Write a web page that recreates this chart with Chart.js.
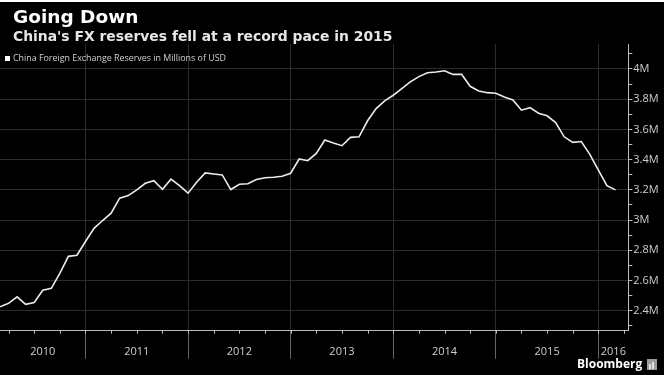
<!DOCTYPE html>
<html>
<head>
<meta charset="utf-8">
<script src="https://cdn.jsdelivr.net/npm/chart.js@4"></script>
<style>
  html, body { margin: 0; padding: 0; background: #000; }
  #wrap { width: 664px; height: 375px; position: relative; }
  canvas { display: block; }
</style>
</head>
<body>
<div id="wrap"><canvas id="c" width="664" height="375"></canvas></div>
<script>
// ---- data (month-end, millions of USD) ----
const months = [
  '2010-02','2010-03','2010-04','2010-05','2010-06','2010-07','2010-08','2010-09','2010-10','2010-11','2010-12',
  '2011-01','2011-02','2011-03','2011-04','2011-05','2011-06','2011-07','2011-08','2011-09','2011-10','2011-11','2011-12',
  '2012-01','2012-02','2012-03','2012-04','2012-05','2012-06','2012-07','2012-08','2012-09','2012-10','2012-11','2012-12',
  '2013-01','2013-02','2013-03','2013-04','2013-05','2013-06','2013-07','2013-08','2013-09','2013-10','2013-11','2013-12',
  '2014-01','2014-02','2014-03','2014-04','2014-05','2014-06','2014-07','2014-08','2014-09','2014-10','2014-11','2014-12',
  '2015-01','2015-02','2015-03','2015-04','2015-05','2015-06','2015-07','2015-08','2015-09','2015-10','2015-11','2015-12',
  '2016-01','2016-02'
];
const reserves = [
  2426000,2449000,2492000,2442000,2455000,2536000,2548000,2648000,2760000,2767000,2858000,
  2945000,2997000,3046000,3145000,3162000,3200000,3243000,3261000,3204000,3271000,3228000,3178000,
  3250000,3312000,3305000,3299000,3202000,3237000,3240000,3268000,3280000,3283000,3290000,3310000,
  3404000,3393000,3441000,3530000,3510000,3492000,3547000,3551000,3657000,3738000,3789000,3826000,
  3870000,3914000,3949000,3975000,3980000,3988000,3964000,3964000,3885000,3854000,3843000,3839000,
  3815000,3795000,3727000,3744000,3707000,3690000,3645000,3551000,3514000,3520000,3435000,3330000,
  3228000,3200000
];
const yearLabels = ['2010','2011','2012','2013','2014','2015','2016'];
const yTickValues = [2400000,2600000,2800000,3000000,3200000,3400000,3600000,3800000,4000000];
const titleText = 'Going Down';
const subtitleText = "China's FX reserves fell at a record pace in 2015";
const seriesName = 'China Foreign Exchange Reserves in Millions of USD';
const sourceText = 'Bloomberg';

// month index since end of 2009 (Feb 2010 -> 2)
const monthPos = m => (parseInt(m.slice(0,4)) - 2010) * 12 + parseInt(m.slice(5,7));
const points = months.map((m, i) => ({ x: monthPos(m), y: reserves[i] }));
const yearStarts = yearLabels.map((y, i) => i * 12);
const X_MIN = monthPos(months[0]);
const X_MAX = monthPos(months[months.length - 1]) + 1.5;

const decor = {
  id: 'decor',
  beforeDraw(chart) {
    const c = chart.ctx;
    c.save();
    c.fillStyle = '#000';
    c.fillRect(0, 0, chart.width, chart.height);
    c.fillStyle = '#fff';
    c.fillRect(0, 0, chart.width, 2);
    c.restore();
  },
  afterDraw(chart) {
    const c = chart.ctx, xs = chart.scales.x, area = chart.chartArea;
    c.save();
    // quarter ticks below x axis
    c.strokeStyle = '#bdbdbd';
    c.lineWidth = 1;
    for (let q = 3; q <= xs.max; q += 3) {
      if (q < xs.min) continue;
      const px = Math.round(xs.getPixelForValue(q)) + 0.5;
      c.beginPath();
      c.moveTo(px, area.bottom);
      c.lineTo(px, area.bottom + 3);
      c.stroke();
    }
    // year labels centred in each visible year span
    c.font = '11px "Open Sans"';
    c.fillStyle = '#cfcfcf';
    c.textAlign = 'center';
    c.textBaseline = 'middle';
    yearLabels.forEach((lab, i) => {
      const a = Math.max(xs.min, yearStarts[i]);
      const b = Math.min(xs.max, yearStarts[i] + 12);
      c.fillText(lab, xs.getPixelForValue((a + b) / 2), 352);
    });
    // titles
    c.textAlign = 'left';
    c.textBaseline = 'alphabetic';
    c.fillStyle = '#ffffff';
    c.font = 'bold 18.5px "DejaVu Sans"';
    c.fillText(titleText, 13, 22.5);
    c.fillStyle = '#e6e6e6';
    c.font = 'bold 13.9px "DejaVu Sans"';
    c.fillText(subtitleText, 13, 40.5);
    // legend
    c.fillStyle = '#ffffff';
    c.fillRect(5, 56, 5, 5);
    c.fillStyle = '#d0d0d0';
    c.font = '8.9px "Open Sans"';
    c.textBaseline = 'middle';
    c.fillText(seriesName, 13, 58.8);
    // source
    c.fillStyle = '#ffffff';
    c.font = 'bold 12px "Open Sans"';
    c.textBaseline = 'middle';
    c.fillText(sourceText, 577, 365);
    c.fillStyle = '#9a9a9a';
    c.fillRect(647, 359, 10, 11);
    c.fillStyle = '#e0e0e0';
    c.fillRect(649, 364, 2, 5);
    c.fillRect(652, 362, 2, 7);
    c.restore();
  }
};

new Chart(document.getElementById('c'), {
  type: 'line',
  data: {
    datasets: [{
      label: seriesName,
      data: points,
      borderColor: '#ececec',
      borderWidth: 1.6,
      pointRadius: 0,
      tension: 0,
      fill: false
    }]
  },
  options: {
    responsive: false,
    devicePixelRatio: 1,
    animation: false,
    layout: { padding: { top: 44, left: 0, right: 0, bottom: 0 } },
    plugins: { legend: { display: false }, tooltip: { enabled: false }, title: { display: false } },
    scales: {
      x: {
        type: 'linear',
        min: X_MIN,
        max: X_MAX,
        afterBuildTicks: s => { s.ticks = yearStarts.filter(v => v > X_MIN && v < X_MAX).map(v => ({ value: v })); },
        afterFit: s => { s.height = 44.3; },
        grid: { color: '#2c2c2c', lineWidth: 1, drawTicks: true, tickLength: 28, tickColor: '#666' },
        border: { display: true, color: '#bdbdbd', width: 1 },
        ticks: { display: false }
      },
      y: {
        position: 'right',
        min: 2268000,
        max: 4165000,
        afterBuildTicks: s => {
          const t = [];
          for (let v = 2300000; v <= 4100000; v += 100000) t.push({ value: v });
          s.ticks = t;
        },
        afterFit: s => { s.width = 35.7; },
        grid: {
          color: ctx => yTickValues.includes(ctx.tick && ctx.tick.value) ? '#2c2c2c' : 'rgba(0,0,0,0)',
          tickColor: '#bdbdbd',
          tickLength: 4,
          drawTicks: true
        },
        border: { display: true, color: '#bdbdbd', width: 1 },
        ticks: {
          color: '#cfcfcf',
          font: { family: '"Open Sans"', size: 11 },
          padding: 1,
          autoSkip: false,
          callback: v => yTickValues.includes(v) ? (v / 1e6) + 'M' : ''
        }
      }
    }
  },
  plugins: [decor]
});
</script>
</body>
</html>
